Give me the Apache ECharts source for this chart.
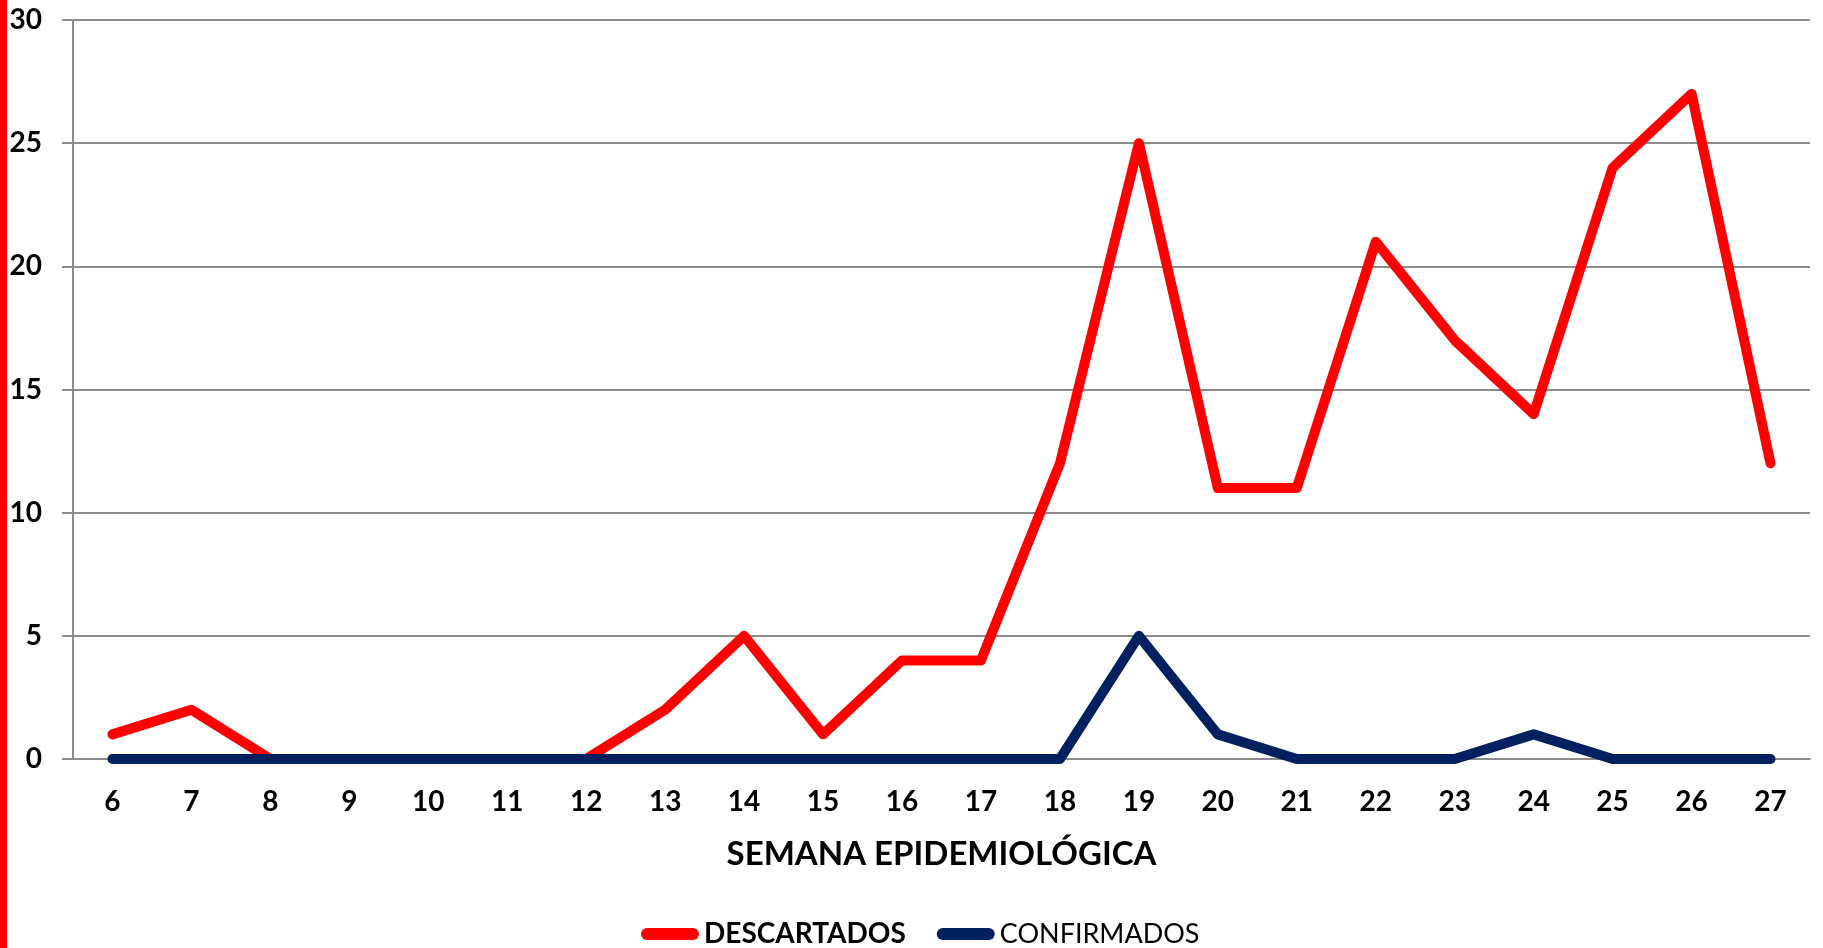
<!DOCTYPE html>
<html>
<head>
<meta charset="utf-8">
<title>Semana epidemiológica</title>
<script src="https://cdn.jsdelivr.net/npm/echarts@6/dist/echarts.min.js"></script>
<style>
	html,body{margin:0;padding:0;background:#fff;}
	#chartBox{width:1823px;height:948px;}
</style>
</head>
<body>
<div id="chartBox"></div>
<script>
var semanas = ['6','7','8','9','10','11','12','13','14','15','16','17','18','19','20','21','22','23','24','25','26','27'];
var descartados = [1,2,0,0,0,0,0,2,5,1,4,4,12,25,11,11,21,17,14,24,27,12];
var confirmados = [0,0,0,0,0,0,0,0,0,0,0,0,0,5,1,0,0,0,1,0,0,0];
var yTicks = [0,5,10,15,20,25,30];

(function(){
	var Chart = function(){
		this.init();
	};
	var p = Chart.prototype;

	p.init = function(){
		this.font = 'Lato';
		this.myChart = echarts.init(document.getElementById('chartBox'));
		this.myChart.setOption(this.getOption());
	};

	p.getOption = function(){
		var cur = this;
		// pill shaped legend icon
		var pill = 'path://M6,0 L52,0 A6,6 0 0 1 52,12 L6,12 A6,6 0 0 1 6,0 Z';
		return {
			animation: false,
			backgroundColor: '#fff',
			graphic: [
				{type:'rect', left:0, top:0, shape:{width:7, height:948}, style:{fill:'#ff0000'}}
			],
			grid: {left:73, right:13, top:20, bottom:189},
			legend: {
				bottom: -5,
				left: 636,
				itemWidth: 58,
				itemHeight: 12,
				itemGap: 31,
				data: [
					{name:'DESCARTADOS', icon:pill},
					{name:'CONFIRMADOS', icon:pill}
				],
				formatter: function(name){
					return name == 'DESCARTADOS' ? '{b|'+name+'}' : '{n|'+name+'}';
				},
				textStyle: {
					rich: {
						b: {fontFamily:cur.font, fontWeight:'bold', fontSize:28, color:'#000'},
						n: {fontFamily:cur.font, fontWeight:'normal', fontSize:27, color:'#000'}
					}
				}
			},
			xAxis: {
				type: 'category',
				data: semanas,
				boundaryGap: true,
				name: 'SEMANA EPIDEMIOLÓGICA',
				nameLocation: 'middle',
				nameGap: 79,
				nameTextStyle: {fontFamily:cur.font, fontWeight:'bold', fontSize:33, color:'#000'},
				axisLine: {lineStyle:{color:'#8c8c8c', width:2}},
				axisTick: {show:false},
				axisLabel: {fontFamily:cur.font, fontWeight:'bold', fontSize:28, color:'#000', margin:29}
			},
			yAxis: {
				type: 'value',
				min: yTicks[0],
				max: yTicks[yTicks.length-1],
				interval: 5,
				axisLine: {show:true, lineStyle:{color:'#8c8c8c', width:2}},
				axisTick: {show:true, length:11, lineStyle:{color:'#8c8c8c', width:2}},
				splitLine: {lineStyle:{color:'#8c8c8c', width:2}},
				axisLabel: {fontFamily:cur.font, fontWeight:'bold', fontSize:28, color:'#000', margin:31}
			},
			series: [
				{
					name: 'DESCARTADOS',
					type: 'line',
					data: descartados,
					showSymbol: false,
					color: '#ff0000',
					lineStyle: {width:10, cap:'round', join:'round'}
				},
				{
					name: 'CONFIRMADOS',
					type: 'line',
					data: confirmados,
					showSymbol: false,
					color: '#002060',
					lineStyle: {width:10, cap:'round', join:'round'}
				}
			]
		};
	};

	new Chart();
})();
</script>
</body>
</html>
